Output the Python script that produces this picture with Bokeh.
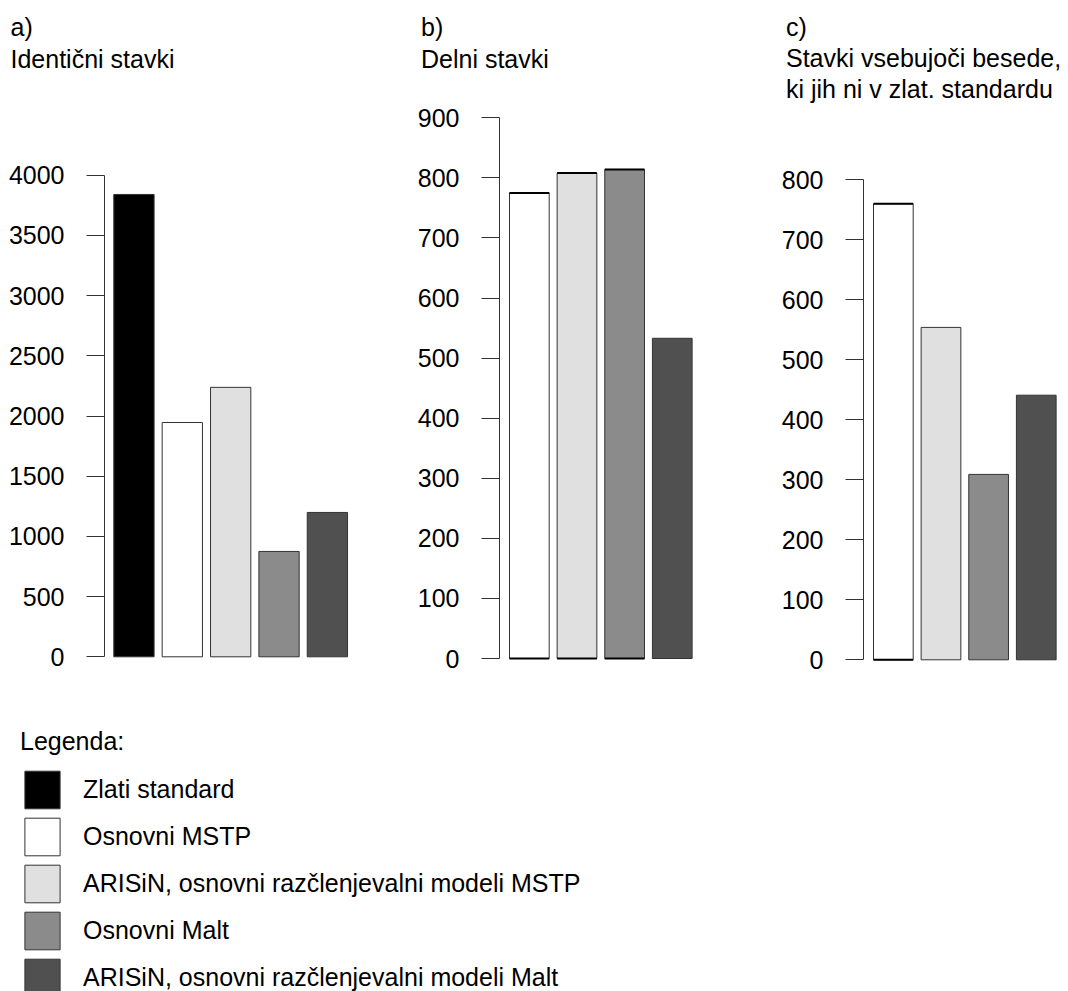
from bokeh.plotting import figure
from bokeh.layouts import column, row
from bokeh.models import Range1d, FixedTicker, ColumnDataSource
from bokeh.core.properties import value
from bokeh.embed import file_html
from bokeh.resources import INLINE

# ---------------- data ----------------
categories = [
    "Zlati standard",
    "Osnovni MSTP",
    "ARISiN, osnovni razčlenjevalni modeli MSTP",
    "Osnovni Malt",
    "ARISiN, osnovni razčlenjevalni modeli Malt",
]
colors = ["#000000", "#ffffff", "#e0e0e0", "#8b8b8b", "#505050"]

# a) Identični stavki (all five categories)
identicni = [3840, 1946, 2238, 875, 1199]
# b) Delni stavki (categories[1:])
delni = [775, 808, 814, 533]
# c) Stavki vsebujoči besede, ki jih ni v zlat. standardu (categories[1:])
nove_besede = [760, 554, 309, 441]

ticks_a = [0, 500, 1000, 1500, 2000, 2500, 3000, 3500, 4000]
ticks_b = [0, 100, 200, 300, 400, 500, 600, 700, 800, 900]
ticks_c = [0, 100, 200, 300, 400, 500, 600, 700, 800]

titles_a = ["a)", "Identični stavki"]
titles_b = ["b)", "Delni stavki"]
titles_c = ["c)", "Stavki vsebujoči besede,", "ki jih ni v zlat. standardu"]

legend_title = "Legenda:"

# black edge marks seen on some bars (style flags)
edges_b = [True, True, True, False]
edges_c = [True, False, False, False]

FONT = "Liberation Sans"
FS = "25px"
W = 1068
HEAD_H = 103
TOP_H = 597
LEG_H = 991 - HEAD_H - TOP_H
ROW_TOP = HEAD_H
ROW_BOT = HEAD_H + TOP_H
MID = 8.66  # distance of the em-box middle above the baseline at 25px

# ---------------- header with panel titles ----------------
ph = figure(width=W, height=HEAD_H, x_range=Range1d(0, W),
            y_range=Range1d(HEAD_H, 0), output_backend="svg",
            toolbar_location=None, x_axis_location=None, y_axis_location=None,
            min_border_left=0, min_border_right=0, min_border_top=0,
            min_border_bottom=0, title=None)
ph.grid.visible = False
ph.outline_line_color = None
tx, ty, tt = [], [], []
for titles, x0, baselines in ((titles_a, 10, [35, 67]),
                              (titles_b, 420.5, [35, 67]),
                              (titles_c, 785.5, [35, 66.5, 97.5])):
    for t, b in zip(titles, baselines):
        tx.append(x0)
        ty.append(b - MID)
        tt.append(t)
ph.text(x=tx, y=ty, text=tt, text_font=value(FONT), text_font_size=value(FS),
        text_color="black", text_baseline="middle", text_align="left")


def make_panel(vals, cols, ticks, fig_left, fig_w, axis_x, ux, gap,
               y0_px, uy, edges=None):
    border_left = axis_x - fig_left
    frame_w = fig_w - border_left
    xs = 0.2 - gap / ux
    xe = xs + frame_w / ux
    ys = (y0_px - ROW_BOT) / uy
    ye = (y0_px - ROW_TOP) / uy
    p = figure(width=fig_w, height=TOP_H, x_range=Range1d(xs, xe),
               y_range=Range1d(ys, ye), output_backend="svg",
               toolbar_location=None, x_axis_location=None,
               min_border_left=border_left, min_border_right=0,
               min_border_top=0, min_border_bottom=0, title=None)
    p.grid.visible = False
    p.outline_line_color = None

    centers = [0.7 + 1.2 * i for i in range(len(vals))]
    src = ColumnDataSource(dict(x=centers, top=vals, color=cols))
    p.vbar(x="x", top="top", bottom=0, width=1, fill_color="color",
           line_color="#333333", line_width=1, source=src)

    if edges is not None:
        ex = [c for c, e in zip(centers, edges) if e]
        ev = [v for v, e in zip(vals, edges) if e]
        x0 = [c - 0.5 for c in ex]
        x1 = [c + 0.5 for c in ex]
        p.segment(x0=x0, x1=x1, y0=ev, y1=ev, line_color="black", line_width=2)
        p.segment(x0=x0, x1=x1, y0=[0] * len(ex), y1=[0] * len(ex),
                  line_color="black", line_width=2)

    ax = p.yaxis[0]
    ax.ticker = FixedTicker(ticks=ticks)
    ax.bounds = (ticks[0], ticks[-1])
    ax.major_tick_out = 18
    ax.major_tick_in = 0
    ax.minor_tick_out = 0
    ax.minor_tick_in = 0
    ax.major_label_standoff = 22
    ax.major_label_text_font = FONT
    ax.major_label_text_font_size = FS
    ax.major_label_text_color = "black"
    ax.axis_line_color = "#333333"
    ax.major_tick_line_color = "#333333"
    return p


pa = make_panel(identicni, colors, ticks_a, fig_left=0, fig_w=372,
                axis_x=104, ux=40.3, gap=9.3, y0_px=656.3, uy=481.6 / 4000)
pb = make_panel(delni, colors[1:], ticks_b, fig_left=372, fig_w=373,
                axis_x=499, ux=39.7, gap=10, y0_px=658, uy=540.7 / 900,
                edges=edges_b)
pc = make_panel(nove_besede, colors[1:], ticks_c, fig_left=745, fig_w=323,
                axis_x=863, ux=39.7, gap=10, y0_px=659.3, uy=480 / 800,
                edges=edges_c)

# ---------------- legend ----------------
pl = figure(width=W, height=LEG_H, x_range=Range1d(0, 1), y_range=Range1d(0, 1),
            output_backend="svg", toolbar_location=None, x_axis_location=None,
            y_axis_location=None, min_border_left=0, min_border_top=7,
            min_border_right=0, min_border_bottom=0, title=None)
pl.grid.visible = False
pl.outline_line_color = None
for i, (c, lab) in enumerate(zip(colors, categories)):
    r = pl.vbar(x=[0.7 + 1.2 * i], top=[identicni[i]], width=1, fill_color=c,
                line_color="#333333", line_width=1, legend_label=lab)
    r.visible = False
leg = pl.legend[0]
leg.location = "top_left"
leg.click_policy = "none"
leg.margin = 20
leg.padding = 0
leg.spacing = 0
leg.glyph_width = 44
leg.glyph_height = 47
leg.label_height = 40
leg.label_standoff = 19
leg.label_text_font = FONT
leg.label_text_font_size = FS
leg.label_text_color = "black"
leg.title = legend_title
leg.title_text_font = FONT
leg.title_text_font_size = FS
leg.title_text_font_style = "normal"
leg.title_text_color = "black"
leg.title_standoff = 10
leg.border_line_color = None
leg.background_fill_alpha = 0
leg.inactive_fill_alpha = 0

layout = column(ph, row(pa, pb, pc), pl)

open("out.html", "w").write(file_html(layout, INLINE))
